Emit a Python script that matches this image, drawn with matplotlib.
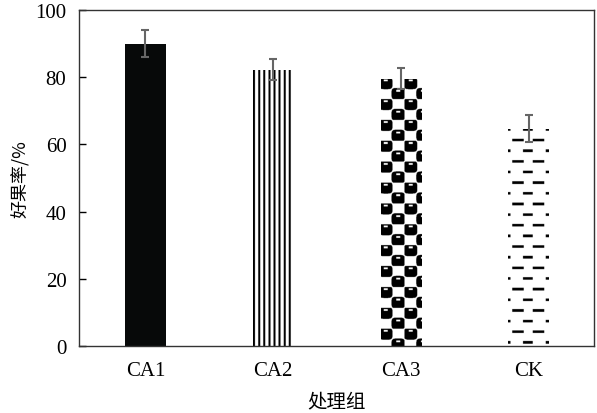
import numpy as np
import matplotlib
matplotlib.use('Agg')
import matplotlib.pyplot as plt

# data
groups = ['CA1', 'CA2', 'CA3', 'CK']
rate = [90.0, 82.2, 79.6, 64.7]
err = [4.1, 3.1, 3.0, 4.0]

plt.rcParams['font.family'] = ['Liberation Serif', 'Noto Sans CJK SC', 'DejaVu Sans']
cjk = ['Noto Sans CJK SC', 'DejaVu Sans']

fig = plt.figure(figsize=(5.97, 4.14), dpi=100)
ax = fig.add_axes([0.1323, 0.1618, 0.8627, 0.8116])

x = np.arange(len(groups))
w = 0.32
bars = ax.bar(x, rate, width=w, color='white', edgecolor='none', zorder=2)
bars[0].set_facecolor('#070909')

ax.set_xlim(-0.52, 3.51)
ax.set_ylim(0, 100)
fig.canvas.draw()

UP = 4  # supersampling of the fill textures


def texture(kind, h, w_px):
    h, w_px = h * UP, w_px * UP
    img = np.ones((h, w_px))
    yy, xx = np.mgrid[0:h, 0:w_px] / UP
    if kind == 'stripes':
        img[(xx % 5.1) < 2.0] = 0.0
    elif kind == 'checker':
        cx, cy = 12.4, 10.4
        sx = (xx + 1.5) % (2 * cx)
        sy = yy % (2 * cy)
        # rounded black squares on a checker grid (two per tile, diagonal)
        d1 = np.abs((sx - cx / 2) / (cx * 0.54)) ** 4 + np.abs((sy - cy / 2) / (cy * 0.56)) ** 4
        d2 = np.abs((sx - 1.5 * cx) / (cx * 0.54)) ** 4 + np.abs((sy - 1.5 * cy) / (cy * 0.56)) ** 4
        img[(d1 < 1) | (d2 < 1)] = 0.0
        # small white notch near the top of every square
        n1 = (np.abs(sx - cx / 2) < 2.0) & (np.abs(sy - 2.2) < 0.9)
        n2 = (np.abs(sx - 1.5 * cx) < 2.0) & (np.abs(sy - cy - 2.2) < 0.9)
        img[n1 | n2] = 1.0
    else:
        per = 21.2
        r = yy % per
        fx = xx / (w_px / UP)
        rowa = r < 2.6
        rowb = (r >= 10.6) & (r < 13.2)
        a = rowa & ((fx < 0.06) | ((fx > 0.36) & (fx < 0.6)) | (fx > 0.92))
        b = rowb & (((fx > 0.1) & (fx < 0.38)) | ((fx > 0.6) & (fx < 0.88)))
        img[a | b] = 0.0
    return img


for b, kind in [(bars[1], 'stripes'), (bars[2], 'checker'), (bars[3], 'dash')]:
    x0, y0 = b.get_x(), b.get_y()
    x1, y1 = x0 + b.get_width(), y0 + b.get_height()
    p0 = ax.transData.transform((x0, y0))
    p1 = ax.transData.transform((x1, y1))
    wp = int(round(p1[0] - p0[0]))
    hp = int(round(p1[1] - p0[1]))
    tex = texture(kind, hp, wp)
    im = ax.imshow(tex, cmap='gray', vmin=0, vmax=1, extent=(x0, x1, y0, y1),
                   origin='upper', interpolation='antialiased', aspect='auto', zorder=2)
    im.set_clip_path(b)

ax.errorbar(x, rate, yerr=err, fmt='none', ecolor='#666666', elinewidth=1.5,
            capsize=3, capthick=1.5, zorder=3)

ax.set_aspect('auto')
ax.set_xlim(-0.52, 3.51)
ax.set_ylim(0, 100)
ax.set_yticks([0, 20, 40, 60, 80, 100])
ax.set_xticks(x)
ax.set_xticklabels(groups)
ax.tick_params(axis='y', direction='in', length=5, width=1, labelsize=15, pad=9)
ax.tick_params(axis='x', length=0, labelsize=15, pad=11)
for s in ax.spines.values():
    s.set_linewidth(1.0)
    s.set_color('#333333')

ax.set_ylabel('好果率/%', family=cjk, fontsize=13, labelpad=4)
ax.set_xlabel('处理组', family=cjk, fontsize=14, labelpad=7)

fig.savefig('out.png', dpi=100)
